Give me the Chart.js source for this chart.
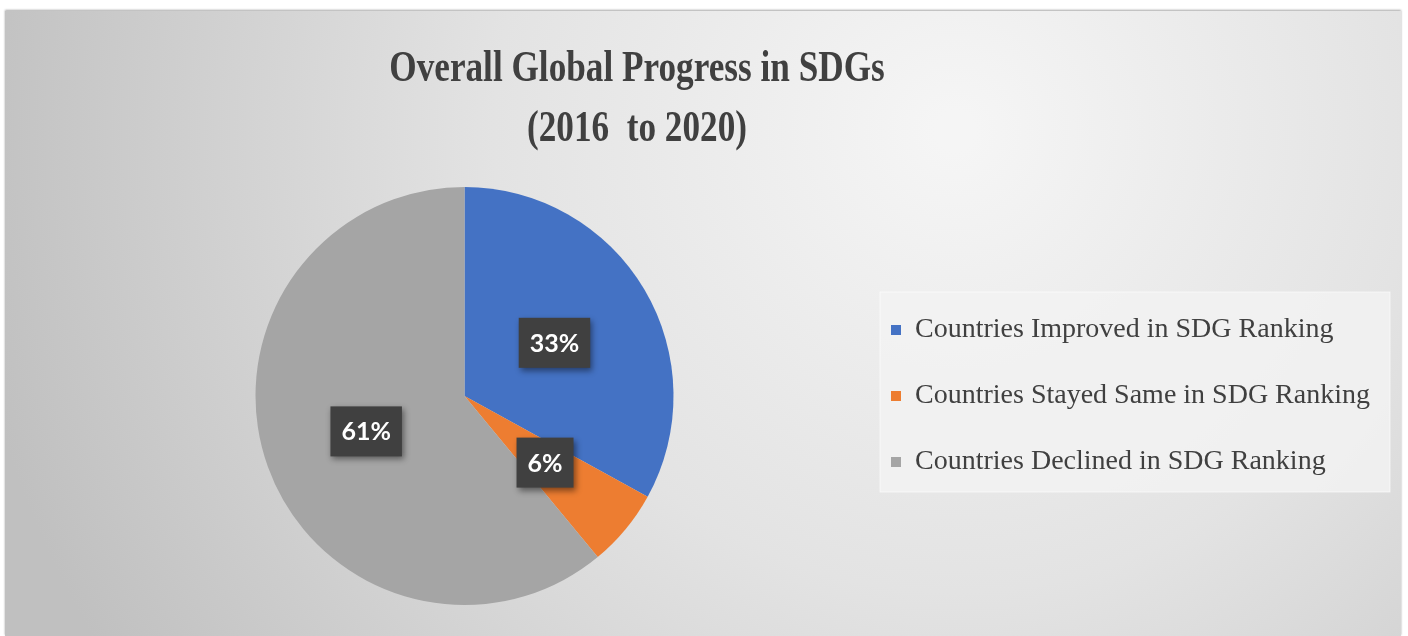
<!DOCTYPE html>
<html>
<head>
<meta charset="utf-8">
<script src="https://cdn.jsdelivr.net/npm/chart.js@4"></script>
<style>
  html, body { margin: 0; padding: 0; background: #fff; overflow: hidden; }
  #wrap {
    position: absolute; left: 5px; top: 11px; width: 1396px; height: 625px;
    box-shadow: 0 -1px 2px rgba(0,0,0,0.35);
  }
</style>
</head>
<body>
<div id="wrap"><canvas id="sdgPie" width="1396" height="625"></canvas></div>
<script>
var titleLines = ['Overall Global Progress in SDGs', '(2016  to 2020)'];
var categories = ['Countries Improved in SDG Ranking', 'Countries Stayed Same in SDG Ranking', 'Countries Declined in SDG Ranking'];
var shares = [33, 6, 61];
var sliceColors = ['#4472C4', '#ED7D31', '#A5A5A5'];

// gradient card background, legend panel and the (narrow) title
const bgPlugin = {
  id: 'bgPlugin',
  beforeDraw(chart) {
    const ctx = chart.ctx;
    const w = chart.width, h = chart.height;
    ctx.save();
    const g = ctx.createRadialGradient(950, 120, 20, 950, 120, 1000);
    g.addColorStop(0, '#f5f5f5');
    g.addColorStop(0.45, '#e3e3e3');
    g.addColorStop(1, '#c0c0c0');
    ctx.fillStyle = g;
    ctx.fillRect(0, 0, w, h);

    ctx.fillStyle = 'rgba(242,242,242,0.85)';
    ctx.fillRect(875, 281, 510, 200);
    ctx.strokeStyle = 'rgba(255,255,255,0.6)';
    ctx.strokeRect(875, 281, 510, 200);

    // title, condensed like the source
    ctx.fillStyle = '#404040';
    ctx.font = 'bold 44px "Liberation Serif"';
    ctx.textAlign = 'center';
    ctx.textBaseline = 'middle';
    titleLines.forEach((t, i) => {
      ctx.save();
      ctx.translate(632, 59 + i * 60);
      ctx.scale(0.8, 1);
      ctx.fillText(t, 0, 0);
      ctx.restore();
    });
    ctx.restore();
  }
};

// percentage boxes on slices
const pctLabels = {
  id: 'pctLabels',
  afterDatasetsDraw(chart) {
    const ctx = chart.ctx;
    const meta = chart.getDatasetMeta(0);
    const data = chart.data.datasets[0].data;
    const total = data.reduce((a, b) => a + b, 0);
    ctx.save();
    ctx.font = 'bold 25px Lato';
    ctx.textAlign = 'center';
    ctx.textBaseline = 'middle';
    meta.data.forEach((arc, i) => {
      const p = arc.tooltipPosition();
      const txt = Math.round(data[i] / total * 100) + '%';
      const bw = ctx.measureText(txt).width + 22;
      const bh = 50;
      ctx.shadowColor = 'rgba(0,0,0,0.45)';
      ctx.shadowBlur = 6;
      ctx.shadowOffsetX = 2;
      ctx.shadowOffsetY = 3;
      ctx.fillStyle = '#404040';
      ctx.fillRect(p.x - bw / 2, p.y - bh / 2, bw, bh);
      ctx.shadowColor = 'transparent';
      ctx.fillStyle = '#ffffff';
      ctx.fillText(txt, p.x, p.y + 1);
    });
    ctx.restore();
  }
};

new Chart(document.getElementById('sdgPie'), {
  type: 'pie',
  data: {
    labels: categories,
    datasets: [{
      data: shares,
      backgroundColor: sliceColors,
      borderWidth: 0,
      radius: 209
    }]
  },
  plugins: [bgPlugin, pctLabels],
  options: {
    responsive: false,
    animation: false,
    layout: { padding: { left: 71, right: 21, top: 172, bottom: 27 } },
    plugins: {
      tooltip: { enabled: false },
      title: { display: false },
      legend: {
        position: 'right',
        labels: {
          color: '#404040',
          boxWidth: 10,
          boxHeight: 10,
          padding: 38,
          font: { family: 'Liberation Serif', size: 28 }
        }
      }
    }
  }
});
</script>
</body>
</html>
